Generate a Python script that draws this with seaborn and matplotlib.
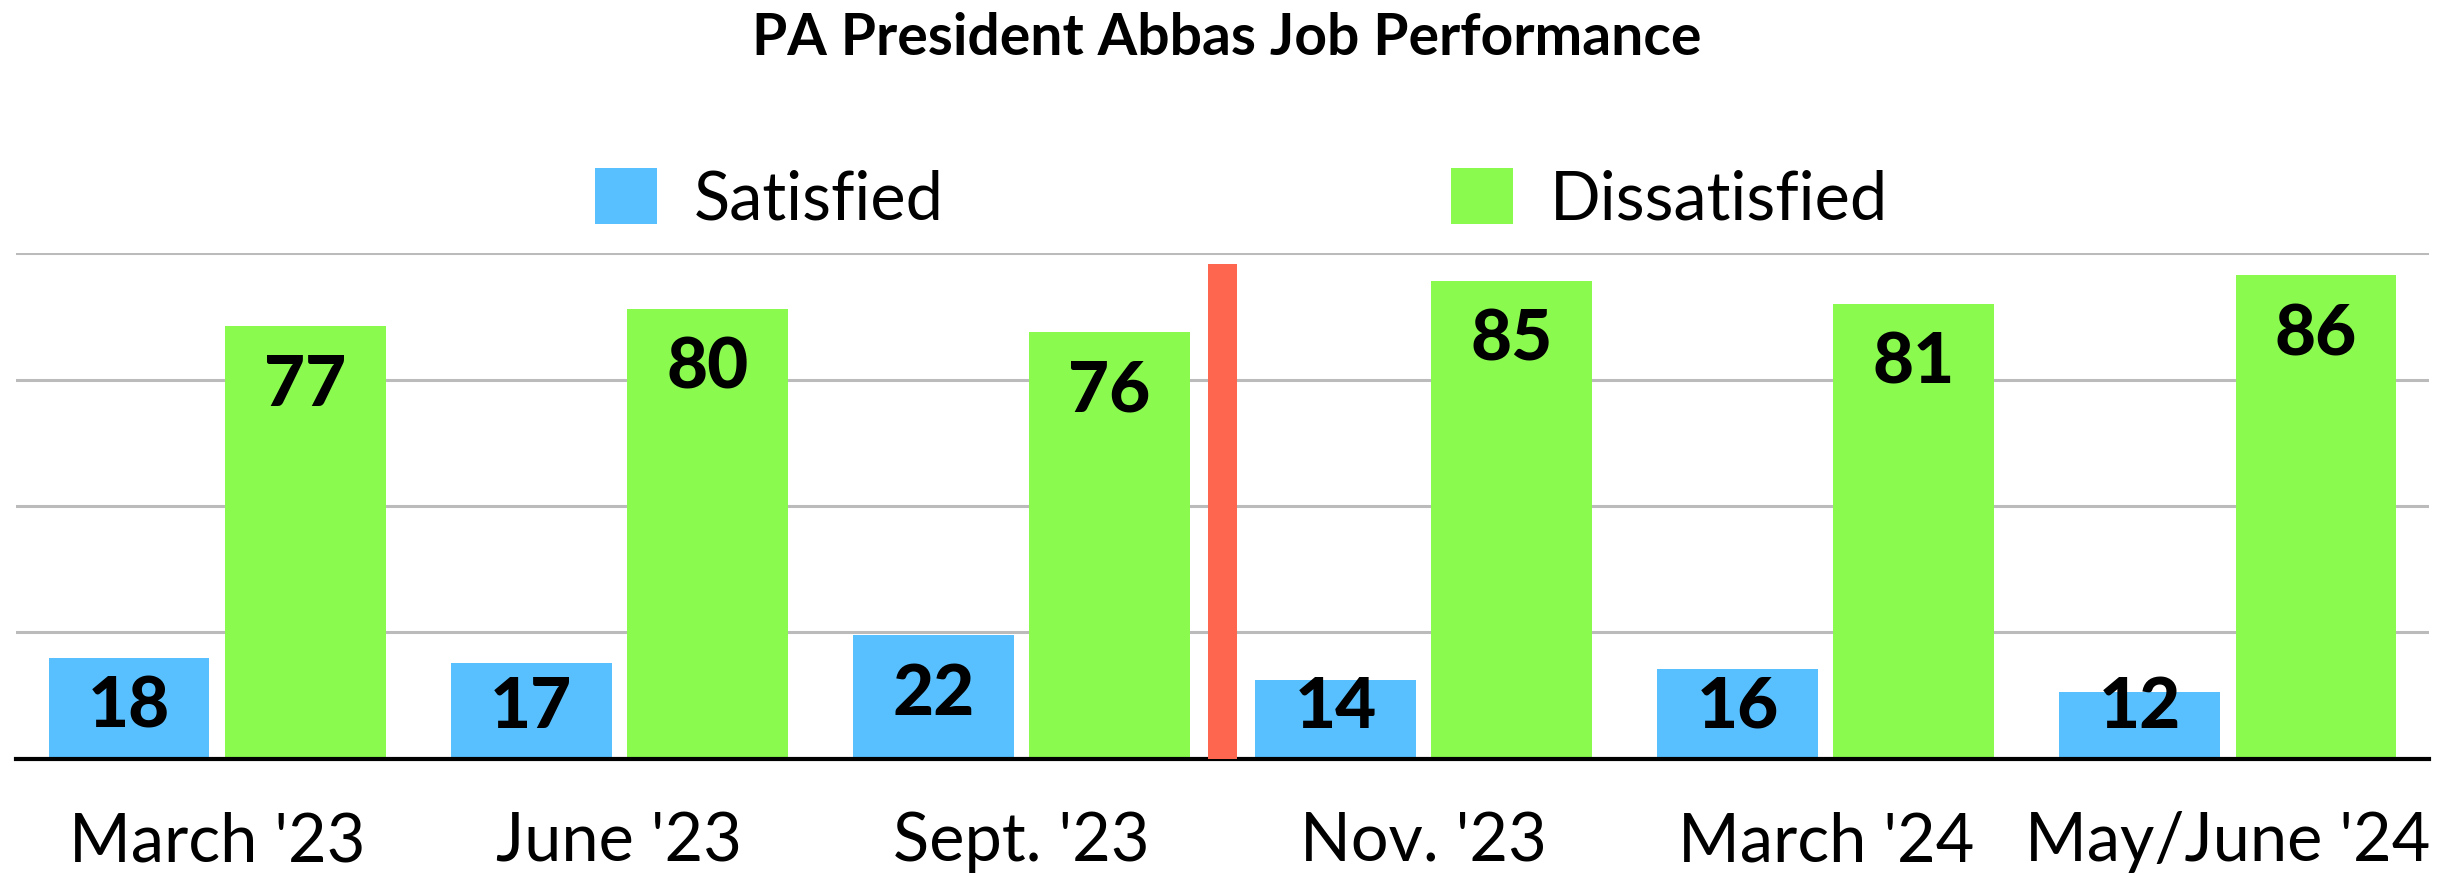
import pandas as pd
import matplotlib.pyplot as plt
import seaborn as sns

# survey data
periods = ["March '23", "June '23", "Sept. '23", "Nov. '23", "March '24", "May/June '24"]
satisfied = [18, 17, 22, 14, 16, 12]
dissatisfied = [77, 80, 76, 85, 81, 86]
series = ["Satisfied", "Dissatisfied"]
colors = ["#58C0FF", "#8AFA4F"]
divider_after = 2      # red divider between Sept. '23 and Nov. '23
divider_height = 88

df = pd.DataFrame({
    "period": periods * 2,
    "response": [series[0]] * len(periods) + [series[1]] * len(periods),
    "value": satisfied + dissatisfied,
})

sns.set_theme(style="white")
plt.rcParams["font.family"] = ["Lato", "DejaVu Sans"]
plt.rcParams["text.color"] = "black"
plt.rcParams["xtick.color"] = "black"

fig = plt.figure(figsize=(24.54, 8.78), dpi=100)
ax = fig.add_axes([0.0065, 0.1344, 0.9833, 0.5763])

sns.barplot(data=df, x="period", y="value", hue="response", hue_order=series,
            palette=colors, saturation=1, width=0.876, gap=0.087,
            linewidth=0, ax=ax)

# value labels inside the bars
for cont in ax.containers:
    for bar in cont:
        h = bar.get_height()
        x = bar.get_x() + bar.get_width() / 2
        ax.text(x, max(h - 14.0, 5.7), f"{h:.0f}", ha="center", va="baseline",
                fontsize=51, fontweight="black", color="black", zorder=4)

# red divider
ax.bar(divider_after + 0.5, divider_height, width=0.072, color="#FF6650",
       linewidth=0, zorder=3)

ax.set_xlim(-0.5, len(periods) - 0.5)
ax.set_ylim(0, 90)
ax.set_yticks([22.5, 45, 67.5, 90])
ax.set_yticklabels([])
ax.yaxis.grid(True, color="#BBBBBB", linewidth=2.2)
ax.set_axisbelow(True)
ax.tick_params(axis="y", length=0)
ax.tick_params(axis="x", length=0, pad=37, labelsize=48, labelcolor="black")
ax.set_xlabel("")
ax.set_ylabel("")
sns.despine(ax=ax, left=True)
ax.spines["bottom"].set_color("black")
ax.spines["bottom"].set_linewidth(3)

handles, labels = ax.get_legend_handles_labels()
leg = ax.legend(handles, labels, loc="center", bbox_to_anchor=(0.506, 0.772),
                bbox_transform=fig.transFigure, ncol=2, frameon=False, fontsize=48,
                handlelength=0.93, handleheight=0.93, handletextpad=0.56,
                columnspacing=7.6, labelcolor="black")

fig.suptitle("PA President Abbas Job Performance", x=0.5, y=0.956, va="center",
             fontsize=41, fontweight="bold", color="black")

fig.savefig("out.png", dpi=100)
